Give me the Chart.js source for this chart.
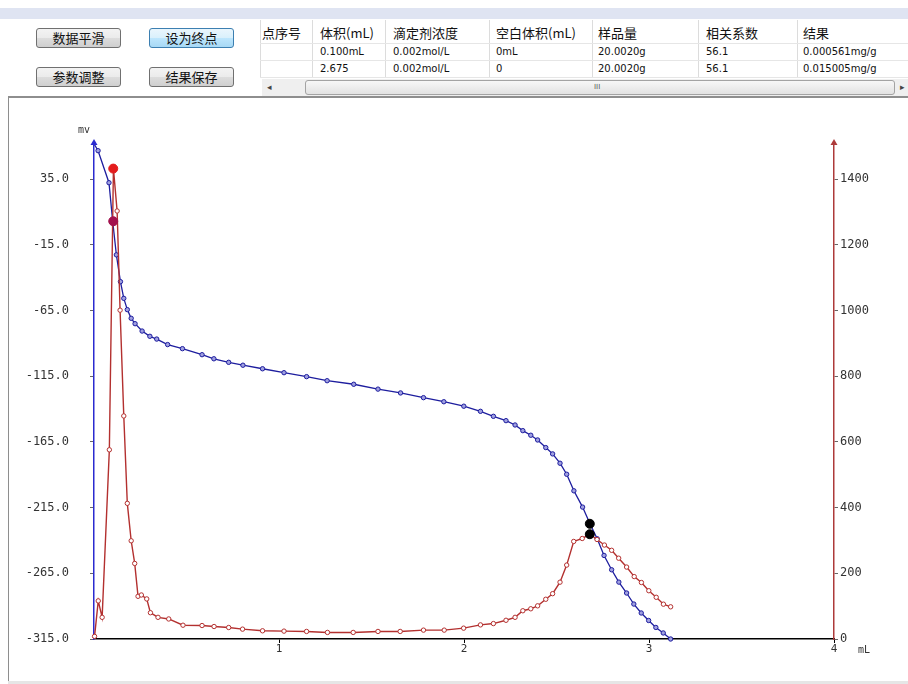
<!DOCTYPE html>
<html><head><meta charset="utf-8">
<script src="https://cdn.jsdelivr.net/npm/chart.js@4"></script>
<style>
html,body{margin:0;padding:0;}
body{width:908px;height:684px;background:#fff;position:relative;overflow:hidden;font-family:"Noto Sans CJK SC","DejaVu Sans",sans-serif;}
.abs{position:absolute;}
#band{left:0;top:8px;width:908px;height:11px;background:#dfe4f2;}
.btn{position:absolute;width:85px;height:20px;box-sizing:border-box;border:1px solid #707070;border-radius:3px;background:linear-gradient(#f3f3f3,#ebebeb 50%,#dddddd 50%,#cfcfcf);font-size:13px;line-height:18px;text-align:center;color:#111;}
.btn.on{border-color:#3c7fb1;background:linear-gradient(#eaf6fd,#d9f0fc 50%,#bee6fd 50%,#a7d9f5);}
.hd{position:absolute;font-size:13px;color:#111;line-height:16px;white-space:nowrap;}
.cell{position:absolute;font-family:"DejaVu Sans",sans-serif;font-size:10px;color:#111;line-height:12px;white-space:nowrap;}
.vl{position:absolute;width:1px;background:#dcdcdc;top:20px;height:58px;}
.hl{position:absolute;height:1px;background:#e6e6e6;left:260px;width:648px;}
</style>
</head><body>
<div id="band" class="abs"></div>

<div class="btn" style="left:36px;top:28px;">数据平滑</div>
<div class="btn on" style="left:149px;top:28px;">设为终点</div>
<div class="btn" style="left:36px;top:67px;">参数调整</div>
<div class="btn" style="left:149px;top:67px;">结果保存</div>

<div id="table"></div>

<div class="abs" style="left:262px;top:79px;width:646px;height:17px;background:#efefef;"></div>
<div class="abs" style="left:267px;top:80px;font-size:9px;color:#444;line-height:14px;">◂</div>
<div class="abs" style="left:305px;top:80px;width:590px;height:15px;box-sizing:border-box;border:1px solid #a3a3a3;border-radius:3px;background:linear-gradient(#f7f7f7,#e2e2e2);"></div>
<div class="abs" style="left:594px;top:80px;font-family:'DejaVu Sans';font-size:7px;line-height:14px;color:#555;">III</div>
<div class="abs" style="left:900px;top:80px;font-size:9px;color:#444;line-height:14px;">▸</div>

<div class="abs" style="left:8px;top:96px;width:900px;height:2px;background:#8e8e8e;"></div>
<div class="abs" style="left:8px;top:96px;width:1px;height:586px;background:#8e8e8e;"></div>
<div class="abs" style="left:8px;top:681px;width:900px;height:3px;background:#e6e6e6;"></div>

<canvas id="c" width="908" height="584" style="position:absolute;left:0;top:97px;"></canvas>

<script>
// ---- table content ----
const tableHeaders = ["点序号","体积(mL)","滴定剂浓度","空白体积(mL)","样品量","相关系数","结果"];
const tableRow1 = ["","0.100mL","0.002mol/L","0mL","20.0020g","56.1","0.000561mg/g"];
const tableRow2 = ["","2.675","0.002mol/L","0","20.0020g","56.1","0.015005mg/g"];

// ---- potential curve (mV, left axis) ----
const volumeMv = [0.000,0.022,0.081,0.101,0.121,0.143,0.161,0.180,0.201,0.222,0.260,0.302,0.339,0.398,0.478,0.584,0.648,0.728,0.805,0.911,1.027,1.149,1.260,1.404,1.535,1.657,1.781,1.891,1.999,2.089,2.159,2.227,2.276,2.318,2.361,2.398,2.442,2.479,2.519,2.555,2.594,2.641,2.681,2.720,2.757,2.798,2.837,2.879,2.918,2.958,2.998,3.037,3.077,3.117];
const potentialMv = [62.0,56.7,32.3,3.0,-22.6,-43.0,-55.7,-64.3,-70.9,-75.0,-80.6,-84.6,-86.7,-90.9,-94.0,-98.6,-101.7,-104.4,-106.6,-109.3,-112.3,-115.3,-118.4,-121.1,-124.8,-127.7,-131.3,-134.4,-137.8,-141.7,-145.5,-148.8,-152.1,-156.4,-159.9,-163.5,-169.3,-174.1,-181.2,-189.6,-202.2,-214.6,-227.3,-238.7,-251.4,-262.3,-271.7,-280.0,-288.4,-295.2,-300.9,-306.2,-310.4,-315.0];

// ---- first derivative curve (right axis) ----
const volumeDeriv = [0.003,0.023,0.044,0.083,0.105,0.125,0.141,0.161,0.180,0.201,0.220,0.238,0.256,0.285,0.305,0.346,0.404,0.481,0.584,0.649,0.728,0.803,0.911,1.027,1.149,1.262,1.401,1.535,1.655,1.781,1.893,1.998,2.089,2.159,2.227,2.276,2.318,2.361,2.398,2.442,2.479,2.519,2.555,2.593,2.639,2.681,2.719,2.759,2.798,2.836,2.879,2.920,2.959,2.999,3.039,3.078,3.117];
const derivative = [8,116,66,576,1432,1303,1001,679,413,299,230,130,134,122,80,66,61,42,41,38,35,30,25,24,23,20,20,23,23,27,27,33,43,47,57,66,86,92,101,121,138,173,225,297,306,319,303,286,270,246,219,190,172,147,127,106,98];

// ---- end points ----
const endpointVolumes = [0.104, 2.680];
const endpointPotential = [3.0, -227.3];
const endpointDerivative = [1432, 319];

// ---- axis ticks ----
const leftTicks = [-315,-265,-215,-165,-115,-65,-15,35];
const rightTicks = [0,200,400,600,800,1000,1200,1400];
const xTicks = [1,2,3,4];

// build table
(function(){
  const colX = [262,320,393,496,598,706,803];
  const sepX = [260,312,385,489,592,698,797];
  const t = document.getElementById('table');
  let h = '';
  sepX.forEach(x=>{ h += `<div class="vl" style="left:${x}px"></div>`; });
  [43,60,77].forEach(y=>{ h += `<div class="hl" style="top:${y}px"></div>`; });
  tableHeaders.forEach((s,i)=>{ h += `<div class="hd" style="left:${colX[i]}px;top:25px">${s}</div>`; });
  tableRow1.forEach((s,i)=>{ if(s) h += `<div class="cell" style="left:${colX[i]}px;top:46px">${s}</div>`; });
  tableRow2.forEach((s,i)=>{ if(s) h += `<div class="cell" style="left:${colX[i]}px;top:63px">${s}</div>`; });
  t.innerHTML = h;
})();

const BLUE = '#1d1d9e';
const BLUE_AXIS = '#2b2bd0';
const RED = '#b3302f';
const RED_AXIS = '#ad3a3a';
const MONO = "'DejaVu Sans Mono', monospace";

const extras = {
  id: 'extras',
  afterDraw(chart){
    const ctx = chart.ctx, a = chart.chartArea;
    ctx.save();
    ctx.fillStyle = BLUE_AXIS;
    ctx.beginPath(); ctx.moveTo(a.left, a.top-3); ctx.lineTo(a.left-3.5, a.top+3); ctx.lineTo(a.left+3.5, a.top+3); ctx.closePath(); ctx.fill();
    ctx.fillStyle = RED_AXIS;
    ctx.beginPath(); ctx.moveTo(a.right, a.top-3); ctx.lineTo(a.right-3.5, a.top+3); ctx.lineTo(a.right+3.5, a.top+3); ctx.closePath(); ctx.fill();
    ctx.fillStyle = '#333';
    ctx.font = "10px " + MONO;
    ctx.textBaseline = 'middle';
    ctx.textAlign = 'left';
    ctx.fillText('mv', a.left-16, a.top-12);
    ctx.fillText('mL', a.right+24, a.bottom+11);
    ctx.restore();
  }
};

const epBlueColors = ['#a3114d','#000000'];
const epRedColors = ['#e41c1c','#000000'];

new Chart(document.getElementById('c'), {
  type: 'line',
  data: {
    datasets: [
      {
        label: 'mV',
        order: 2,
        data: volumeMv.map((x,i)=>({x, y: potentialMv[i]})),
        yAxisID: 'y',
        borderColor: BLUE,
        borderWidth: 1.3,
        pointRadius: volumeMv.map((x,i)=> i===0 ? 0 : 2.2),
        pointBorderWidth: 1,
        pointBorderColor: BLUE,
        pointBackgroundColor: '#a0a0e0',
        tension: 0,
        clip: false
      },
      {
        label: 'dE/dV',
        order: 1,
        data: volumeDeriv.map((x,i)=>({x, y: derivative[i]})),
        yAxisID: 'y2',
        borderColor: RED,
        borderWidth: 1.4,
        pointRadius: 2.2,
        pointBorderWidth: 1,
        pointBorderColor: RED,
        pointBackgroundColor: '#ffffff',
        tension: 0,
        clip: false
      },
      {
        type: 'scatter',
        order: 0,
        data: endpointVolumes.map((x,i)=>({x, y: endpointPotential[i]})),
        yAxisID: 'y',
        showLine: false,
        backgroundColor: epBlueColors,
        borderColor: epBlueColors,
        pointBackgroundColor: epBlueColors,
        pointBorderColor: epBlueColors,
        pointRadius: 4.5,
        pointBorderWidth: 1,
        borderWidth: 1,
        clip: false
      },
      {
        type: 'scatter',
        order: -1,
        data: endpointVolumes.map((x,i)=>({x, y: endpointDerivative[i]})),
        yAxisID: 'y2',
        showLine: false,
        backgroundColor: epRedColors,
        borderColor: epRedColors,
        pointBackgroundColor: epRedColors,
        pointBorderColor: epRedColors,
        pointRadius: 4.5,
        pointBorderWidth: 1,
        borderWidth: 1,
        clip: false
      }
    ]
  },
  options: {
    responsive: false,
    animation: false,
    devicePixelRatio: 1,
    layout: { padding: { left: 0, top: 45, right: 14, bottom: 0 } },
    plugins: { legend: { display: false }, tooltip: { enabled: false } },
    scales: {
      x: {
        type: 'linear', position: 'bottom', min: 0, max: 4,
        afterBuildTicks: s => { s.ticks = xTicks.map(v=>({value:v})); },
        afterFit: s => { s.height = 42; },
        grid: { display: true, drawOnChartArea: false, drawTicks: true, tickLength: 4, color: '#000' },
        border: { display: true, color: '#000', width: 1.5 },
        ticks: { color: '#333', font: { family: MONO, size: 11 }, padding: 0, maxRotation: 0, autoSkip: false }
      },
      y: {
        type: 'linear', position: 'left', min: -315, max: 63.3,
        afterBuildTicks: s => { s.ticks = leftTicks.map(v=>({value:v})); },
        afterFit: s => { s.width = 94; },
        grid: { display: true, drawOnChartArea: false, drawTicks: true, tickLength: 4, color: '#666' },
        border: { display: true, color: BLUE_AXIS, width: 1.5 },
        ticks: { color: '#333', font: { family: MONO, size: 12 }, padding: 21, autoSkip: false, callback: v => Number(v).toFixed(1) }
      },
      y2: {
        type: 'linear', position: 'right', min: 0, max: 1513,
        afterBuildTicks: s => { s.ticks = rightTicks.map(v=>({value:v})); },
        afterFit: s => { s.width = 60; },
        grid: { display: true, drawOnChartArea: false, drawTicks: true, tickLength: 4, color: '#666' },
        border: { display: true, color: RED_AXIS, width: 1.5 },
        ticks: { color: '#333', font: { family: MONO, size: 12 }, padding: 2, autoSkip: false, callback: v => String(v) }
      }
    }
  },
  plugins: [extras]
});
</script>
</body></html>
